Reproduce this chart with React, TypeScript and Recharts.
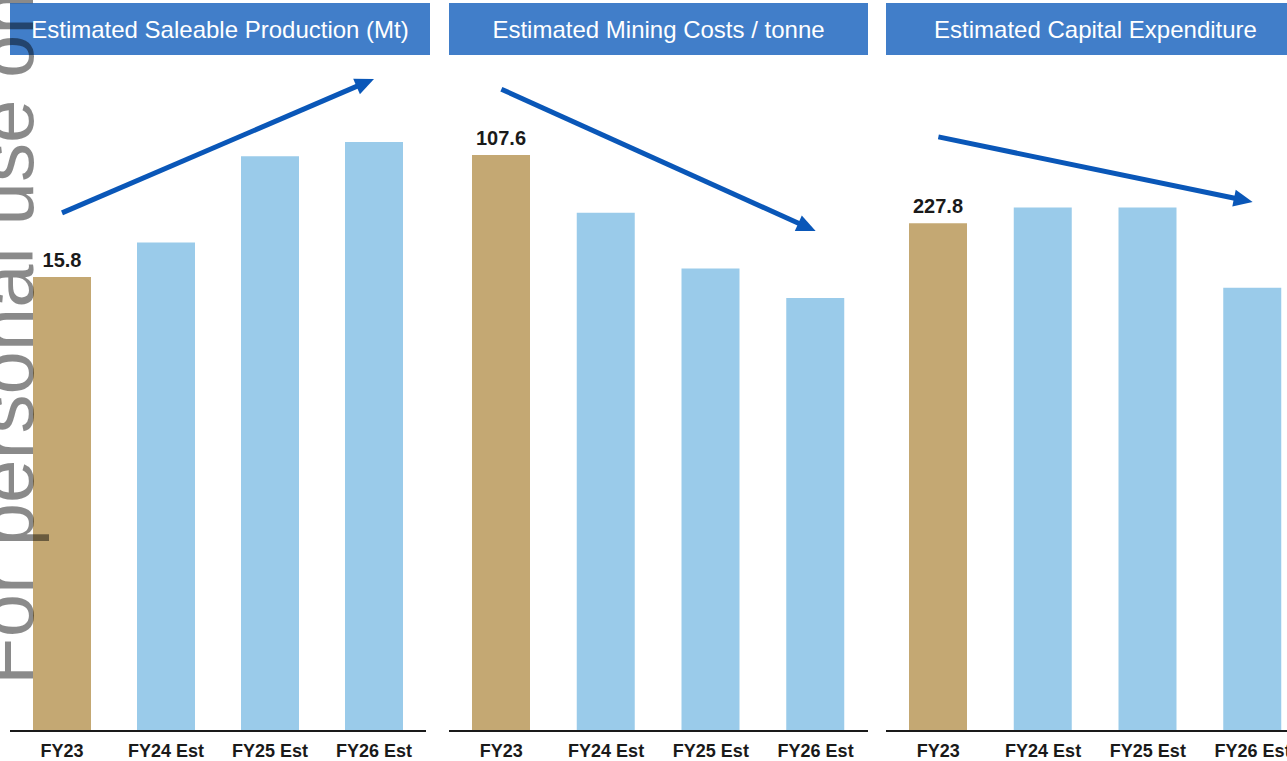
import React from "react";
import {
  BarChart,
  Bar,
  Cell,
  XAxis,
  YAxis,
  LabelList,
  ReferenceLine,
} from "recharts";

const categories = ["FY23", "FY24 Est", "FY25 Est", "FY26 Est"];
const productionValues = [15.8, 17.0, 20.0, 20.5];
const miningCostValues = [107.6, 96.8, 86.4, 80.9];
const capexValues = [227.8, 234.8, 234.8, 198.8];
const panelTitles = [
  "Estimated Saleable Production (Mt)",
  "Estimated Mining Costs / tonne",
  "Estimated Capital Expenditure",
];
// trend arrows: [start y, end y] in each panel's units, FY23 -> FY26
const productionTrend = [18.03, 22.69];
const miningCostTrend = [119.9, 93.4];
const capexTrend = [266.5, 237.3];

const FONT = "'Liberation Sans', Arial, sans-serif";
const ACTUAL = "#c4a873";
const ESTIMATE = "#9acbea";
const ARROW = "#0a57b8";
const HEADER = "#417ec9";

const toRows = (values: number[]) =>
  categories.map((name, i) => ({ name, value: values[i] }));

const arrowShape = (p: any) => {
  const { x1, y1, x2, y2 } = p;
  const dx = x2 - x1;
  const dy = y2 - y1;
  const len = Math.hypot(dx, dy) || 1;
  const ux = dx / len;
  const uy = dy / len;
  const headLen = 19;
  const headW = 8.5;
  const bx = x2 - ux * headLen;
  const by = y2 - uy * headLen;
  const nx = -uy;
  const ny = ux;
  return (
    <g>
      <line x1={x1} y1={y1} x2={bx + ux * 2} y2={by + uy * 2} stroke={ARROW} strokeWidth={5} />
      <polygon
        points={`${x2},${y2} ${bx + nx * headW},${by + ny * headW} ${bx - nx * headW},${by - ny * headW}`}
        fill={ARROW}
      />
    </g>
  );
};

const firstLabel = (props: any) => {
  if (props.index !== 0) return null;
  const vb = props.viewBox || {};
  return (
    <text
      x={vb.x + vb.width / 2}
      y={vb.y - 10}
      textAnchor="middle"
      fontFamily={FONT}
      fontWeight="bold"
      fontSize={20}
      fill="#1a1a1a"
    >
      {props.value}
    </text>
  );
};

function Panel({
  values,
  trend,
  max,
  left,
  width,
}: {
  values: number[];
  trend: number[];
  max: number;
  left: number;
  width: number;
}) {
  const data = toRows(values);
  return (
    <div style={{ position: "absolute", left, top: 0 }}>
      <BarChart
        width={width}
        height={761}
        data={data}
        margin={{ top: 60, right: 0, left: 0, bottom: 0 }}
      >
        <XAxis
          dataKey="name"
          interval={0}
          height={30}
          tickLine={false}
          tickMargin={7}
          axisLine={{ stroke: "#1a1a1a", strokeWidth: 2 }}
          tick={{ fontSize: 18, fontWeight: "bold", fill: "#1a1a1a", fontFamily: FONT }}
        />
        <YAxis hide domain={[0, max]} />
        <Bar dataKey="value" barSize={58} isAnimationActive={false}>
          {data.map((d, i) => (
            <Cell key={d.name} fill={i === 0 ? ACTUAL : ESTIMATE} />
          ))}
          <LabelList dataKey="value" content={firstLabel} />
        </Bar>
        <ReferenceLine
          ifOverflow="visible"
          segment={[
            { x: categories[0], y: trend[0] },
            { x: categories[3], y: trend[1] },
          ]}
          shape={arrowShape}
        />
      </BarChart>
    </div>
  );
}

const headerStyle = (left: number, width: number): React.CSSProperties => ({
  position: "absolute",
  left,
  top: 3,
  width,
  height: 52,
  lineHeight: "53px",
  background: HEADER,
  color: "#fff",
  fontFamily: FONT,
  fontSize: 24,
  textAlign: "center",
  whiteSpace: "nowrap",
});

export default function App() {
  return (
    <div
      style={{
        position: "fixed",
        left: 0,
        top: 0,
        width: 1287,
        height: 761,
        overflow: "hidden",
        background: "#fff",
      }}
    >
      <Panel values={productionValues} trend={productionTrend} max={23.35} left={10} width={416} />
      <Panel values={miningCostValues} trend={miningCostTrend} max={125.35} left={449} width={419} />
      <Panel values={capexValues} trend={capexTrend} max={301} left={886} width={419} />

      <div style={headerStyle(10, 420)}>{panelTitles[0]}</div>
      <div style={headerStyle(449, 419)}>{panelTitles[1]}</div>
      <div style={headerStyle(886, 419)}>{panelTitles[2]}</div>

      <svg
        width={1287}
        height={761}
        style={{ position: "absolute", left: 0, top: 0, pointerEvents: "none" }}
      >
        <text
          x={33}
          y={685}
          transform="rotate(-90, 33, 685)"
          fontFamily={FONT}
          fontSize={78}
          fill="#000"
          fillOpacity={0.46}
        >
          For personal use only
        </text>
      </svg>
    </div>
  );
}
